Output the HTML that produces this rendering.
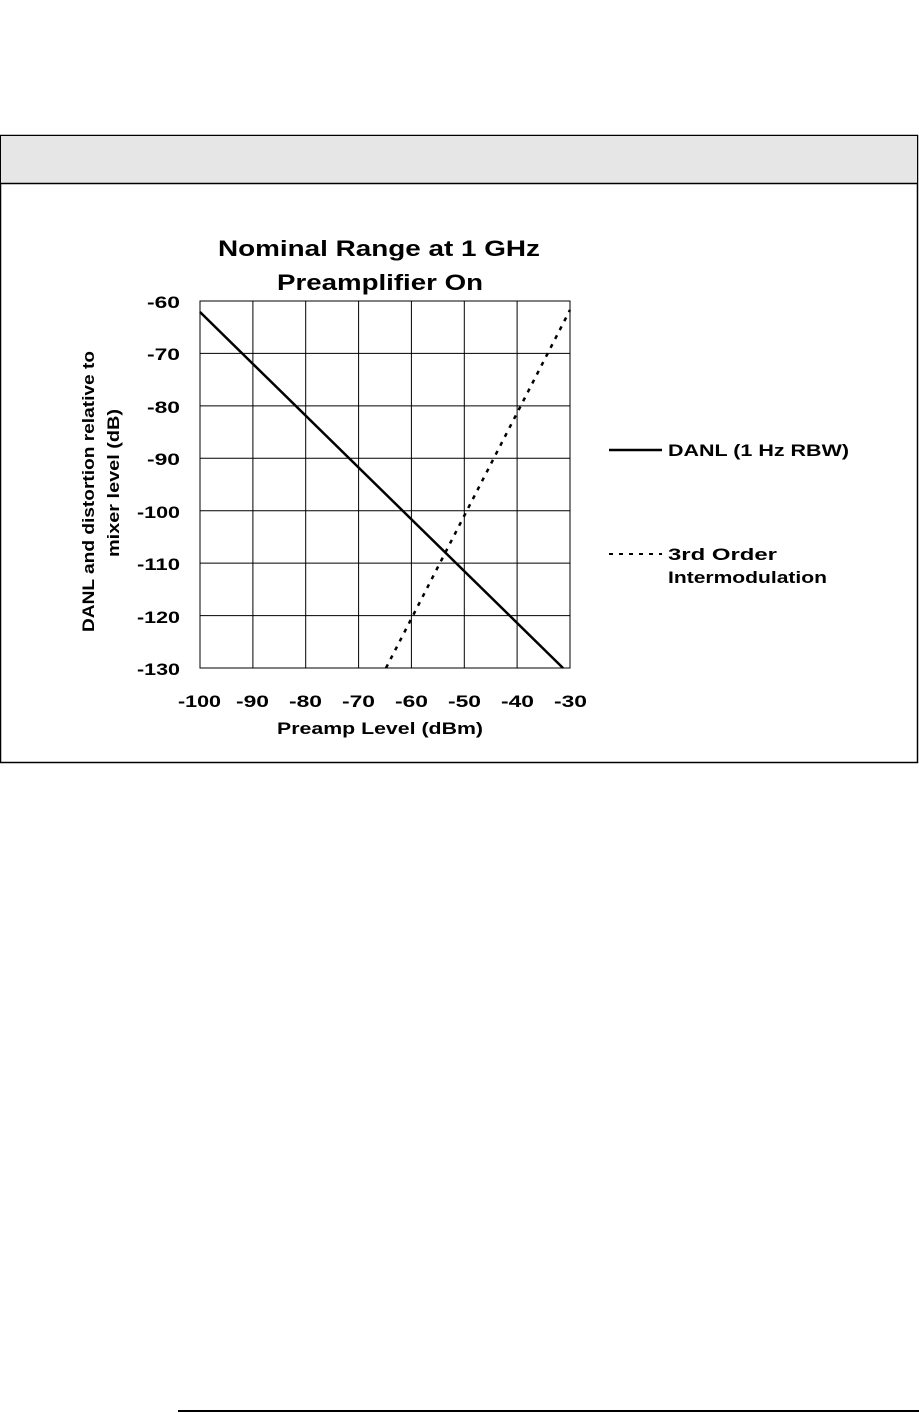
<!DOCTYPE html>
<html><head><style>body{margin:0;background:#fff}svg{display:block}</style></head><body>
<svg width="919" height="1413" xmlns="http://www.w3.org/2000/svg" font-family="Liberation Sans, Arial, sans-serif" font-weight="bold">
<rect x="0.5" y="135.5" width="917" height="627" fill="#fff" stroke="#000" stroke-width="1.5"/>
<rect x="1" y="136" width="916" height="47" fill="#e6e6e6"/>
<line x1="0" y1="183.5" x2="918" y2="183.5" stroke="#000" stroke-width="1.5"/>
<text x="218" y="256" font-size="22" textLength="322" lengthAdjust="spacingAndGlyphs">Nominal Range at 1 GHz</text>
<text x="277" y="290" font-size="22" textLength="206" lengthAdjust="spacingAndGlyphs">Preamplifier On</text>
<g stroke="#000" stroke-width="1">
<rect x="200" y="301" width="370" height="367" fill="none"/>
<line x1="252.9" y1="301" x2="252.9" y2="668"/><line x1="305.7" y1="301" x2="305.7" y2="668"/>
<line x1="358.6" y1="301" x2="358.6" y2="668"/><line x1="411.4" y1="301" x2="411.4" y2="668"/>
<line x1="464.3" y1="301" x2="464.3" y2="668"/><line x1="517.1" y1="301" x2="517.1" y2="668"/>
<line x1="200" y1="353.4" x2="570" y2="353.4"/><line x1="200" y1="405.9" x2="570" y2="405.9"/>
<line x1="200" y1="458.3" x2="570" y2="458.3"/><line x1="200" y1="510.7" x2="570" y2="510.7"/>
<line x1="200" y1="563.1" x2="570" y2="563.1"/><line x1="200" y1="615.6" x2="570" y2="615.6"/>
</g>
<line x1="200" y1="312" x2="563" y2="668" stroke="#000" stroke-width="2.5"/>
<line x1="386" y1="668" x2="570" y2="310" stroke="#000" stroke-width="2.5" stroke-dasharray="4,6"/>
<g font-size="17">
<text x="147" y="308" textLength="33" lengthAdjust="spacingAndGlyphs">-60</text>
<text x="147" y="360" textLength="33" lengthAdjust="spacingAndGlyphs">-70</text>
<text x="147" y="413" textLength="33" lengthAdjust="spacingAndGlyphs">-80</text>
<text x="147" y="465" textLength="33" lengthAdjust="spacingAndGlyphs">-90</text>
<text x="137" y="518" textLength="43" lengthAdjust="spacingAndGlyphs">-100</text>
<text x="137" y="570" textLength="43" lengthAdjust="spacingAndGlyphs">-110</text>
<text x="137" y="623" textLength="43" lengthAdjust="spacingAndGlyphs">-120</text>
<text x="137" y="675" textLength="43" lengthAdjust="spacingAndGlyphs">-130</text>
<text x="178" y="707" textLength="43" lengthAdjust="spacingAndGlyphs">-100</text>
<text x="236" y="707" textLength="33" lengthAdjust="spacingAndGlyphs">-90</text>
<text x="289" y="707" textLength="33" lengthAdjust="spacingAndGlyphs">-80</text>
<text x="342" y="707" textLength="33" lengthAdjust="spacingAndGlyphs">-70</text>
<text x="395" y="707" textLength="33" lengthAdjust="spacingAndGlyphs">-60</text>
<text x="448" y="707" textLength="33" lengthAdjust="spacingAndGlyphs">-50</text>
<text x="501" y="707" textLength="33" lengthAdjust="spacingAndGlyphs">-40</text>
<text x="554" y="707" textLength="33" lengthAdjust="spacingAndGlyphs">-30</text>
</g>
<text x="277" y="734" font-size="17" textLength="206" lengthAdjust="spacingAndGlyphs">Preamp Level (dBm)</text>
<text transform="translate(94,632) rotate(-90)" font-size="17" textLength="281" lengthAdjust="spacingAndGlyphs">DANL and distortion relative to</text>
<text transform="translate(119,557) rotate(-90)" font-size="17" textLength="148" lengthAdjust="spacingAndGlyphs">mixer level (dB)</text>
<line x1="609" y1="450" x2="662" y2="450" stroke="#000" stroke-width="2.5"/>
<text x="668" y="456" font-size="17" textLength="181" lengthAdjust="spacingAndGlyphs">DANL (1 Hz RBW)</text>
<line x1="609" y1="554" x2="662" y2="554" stroke="#000" stroke-width="2" stroke-dasharray="4,6"/>
<text x="668" y="560" font-size="17" textLength="109" lengthAdjust="spacingAndGlyphs">3rd Order</text>
<text x="668" y="583" font-size="17" textLength="159" lengthAdjust="spacingAndGlyphs">Intermodulation</text>
<line x1="178" y1="1411" x2="919" y2="1411" stroke="#000" stroke-width="2"/>
</svg>
</body></html>
